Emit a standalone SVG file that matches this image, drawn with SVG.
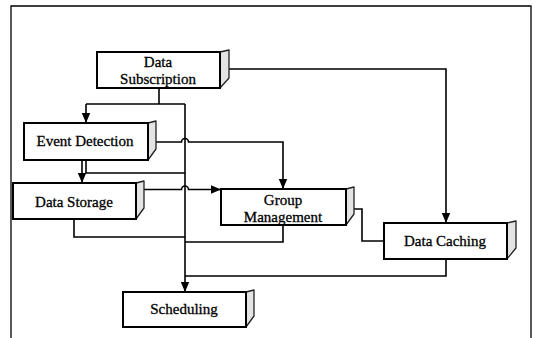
<svg xmlns="http://www.w3.org/2000/svg" width="533" height="338" viewBox="0 0 533 338">
  <style>
    .front { fill: #ffffff; stroke: #000000; stroke-width: 2; }
    .side { fill: #e4e4e4; stroke: #222222; stroke-width: 1.3; stroke-linejoin: round; }
    .label { font-family: "Liberation Serif", "Times New Roman", serif; font-size: 15px; fill: #000000; stroke: #000000; stroke-width: 0.3; text-anchor: middle; }
    .wire { fill: none; stroke: #000000; stroke-width: 1.6; }
    .frame { fill: none; stroke: #000000; stroke-width: 1.3; }
  </style>
  <defs>
    <marker id="arrow" markerWidth="10" markerHeight="10" refX="10" refY="5" orient="auto" markerUnits="userSpaceOnUse">
      <path d="M0,0.8 L10,5 L0,9.2 Z" fill="#000000"/>
    </marker>
  </defs>

  <rect width="533" height="338" fill="#ffffff"/>
  <!-- outer frame, open at the bottom -->
  <path class="frame" d="M11,340 V6 H531 V340"/>

  <!-- connectors -->
  <g id="connectors">
    <path class="wire" d="M159,88 V104"/>
    <path class="wire" d="M86,104 H185"/>
    <path class="wire" d="M86,104 V123" marker-end="url(#arrow)"/>
    <path class="wire" d="M185,104 V292" marker-end="url(#arrow)"/>
    <path class="wire" d="M229,69 H446 V223" marker-end="url(#arrow)"/>
    <path class="wire" d="M156,142 H181.5 a3.5,3.5 0 0 1 7,0 H283 V189" marker-end="url(#arrow)"/>
    <path class="wire" d="M82,160 V183" marker-end="url(#arrow)"/>
    <path class="wire" d="M86,160 V173 H185"/>
    <path class="wire" d="M144,189.5 H181.5 a3.5,3.5 0 0 1 7,0 H221" marker-end="url(#arrow)"/>
    <path class="wire" d="M74,219 V237 H185"/>
    <path class="wire" d="M283,225 V242 H185"/>
    <path class="wire" d="M354,209 H362 V241 H384"/>
    <path class="wire" d="M446,259 V276 H185"/>
  </g>

  <g id="data-subscription">
    <polygon class="side" points="220,52 229,50 229,78 220,88"/>
    <rect class="front" x="97" y="52" width="123" height="36"/>
    <text class="label" x="158" y="67">Data</text>
    <text class="label" x="158" y="84">Subscription</text>
  </g>

  <g id="event-detection">
    <polygon class="side" points="148,123 156,121 156,149 148,160"/>
    <rect class="front" x="24" y="123" width="124" height="37"/>
    <text class="label" x="85" y="146">Event Detection</text>
  </g>

  <g id="data-storage">
    <polygon class="side" points="136,183 144,181 144,208 136,219"/>
    <rect class="front" x="13" y="183" width="123" height="36"/>
    <text class="label" x="74" y="207">Data Storage</text>
  </g>

  <g id="group-management">
    <polygon class="side" points="346,189 354,187 354,214 346,225"/>
    <rect class="front" x="221" y="189" width="125" height="36"/>
    <text class="label" x="283" y="205">Group</text>
    <text class="label" x="283" y="222">Management</text>
  </g>

  <g id="data-caching">
    <polygon class="side" points="507,223 516,221 516,248 507,259"/>
    <rect class="front" x="384" y="223" width="123" height="36"/>
    <text class="label" x="445" y="246">Data Caching</text>
  </g>

  <g id="scheduling">
    <polygon class="side" points="246,292 254,290 254,316 246,327"/>
    <rect class="front" x="123" y="292" width="123" height="35"/>
    <text class="label" x="184" y="314">Scheduling</text>
  </g>
</svg>
